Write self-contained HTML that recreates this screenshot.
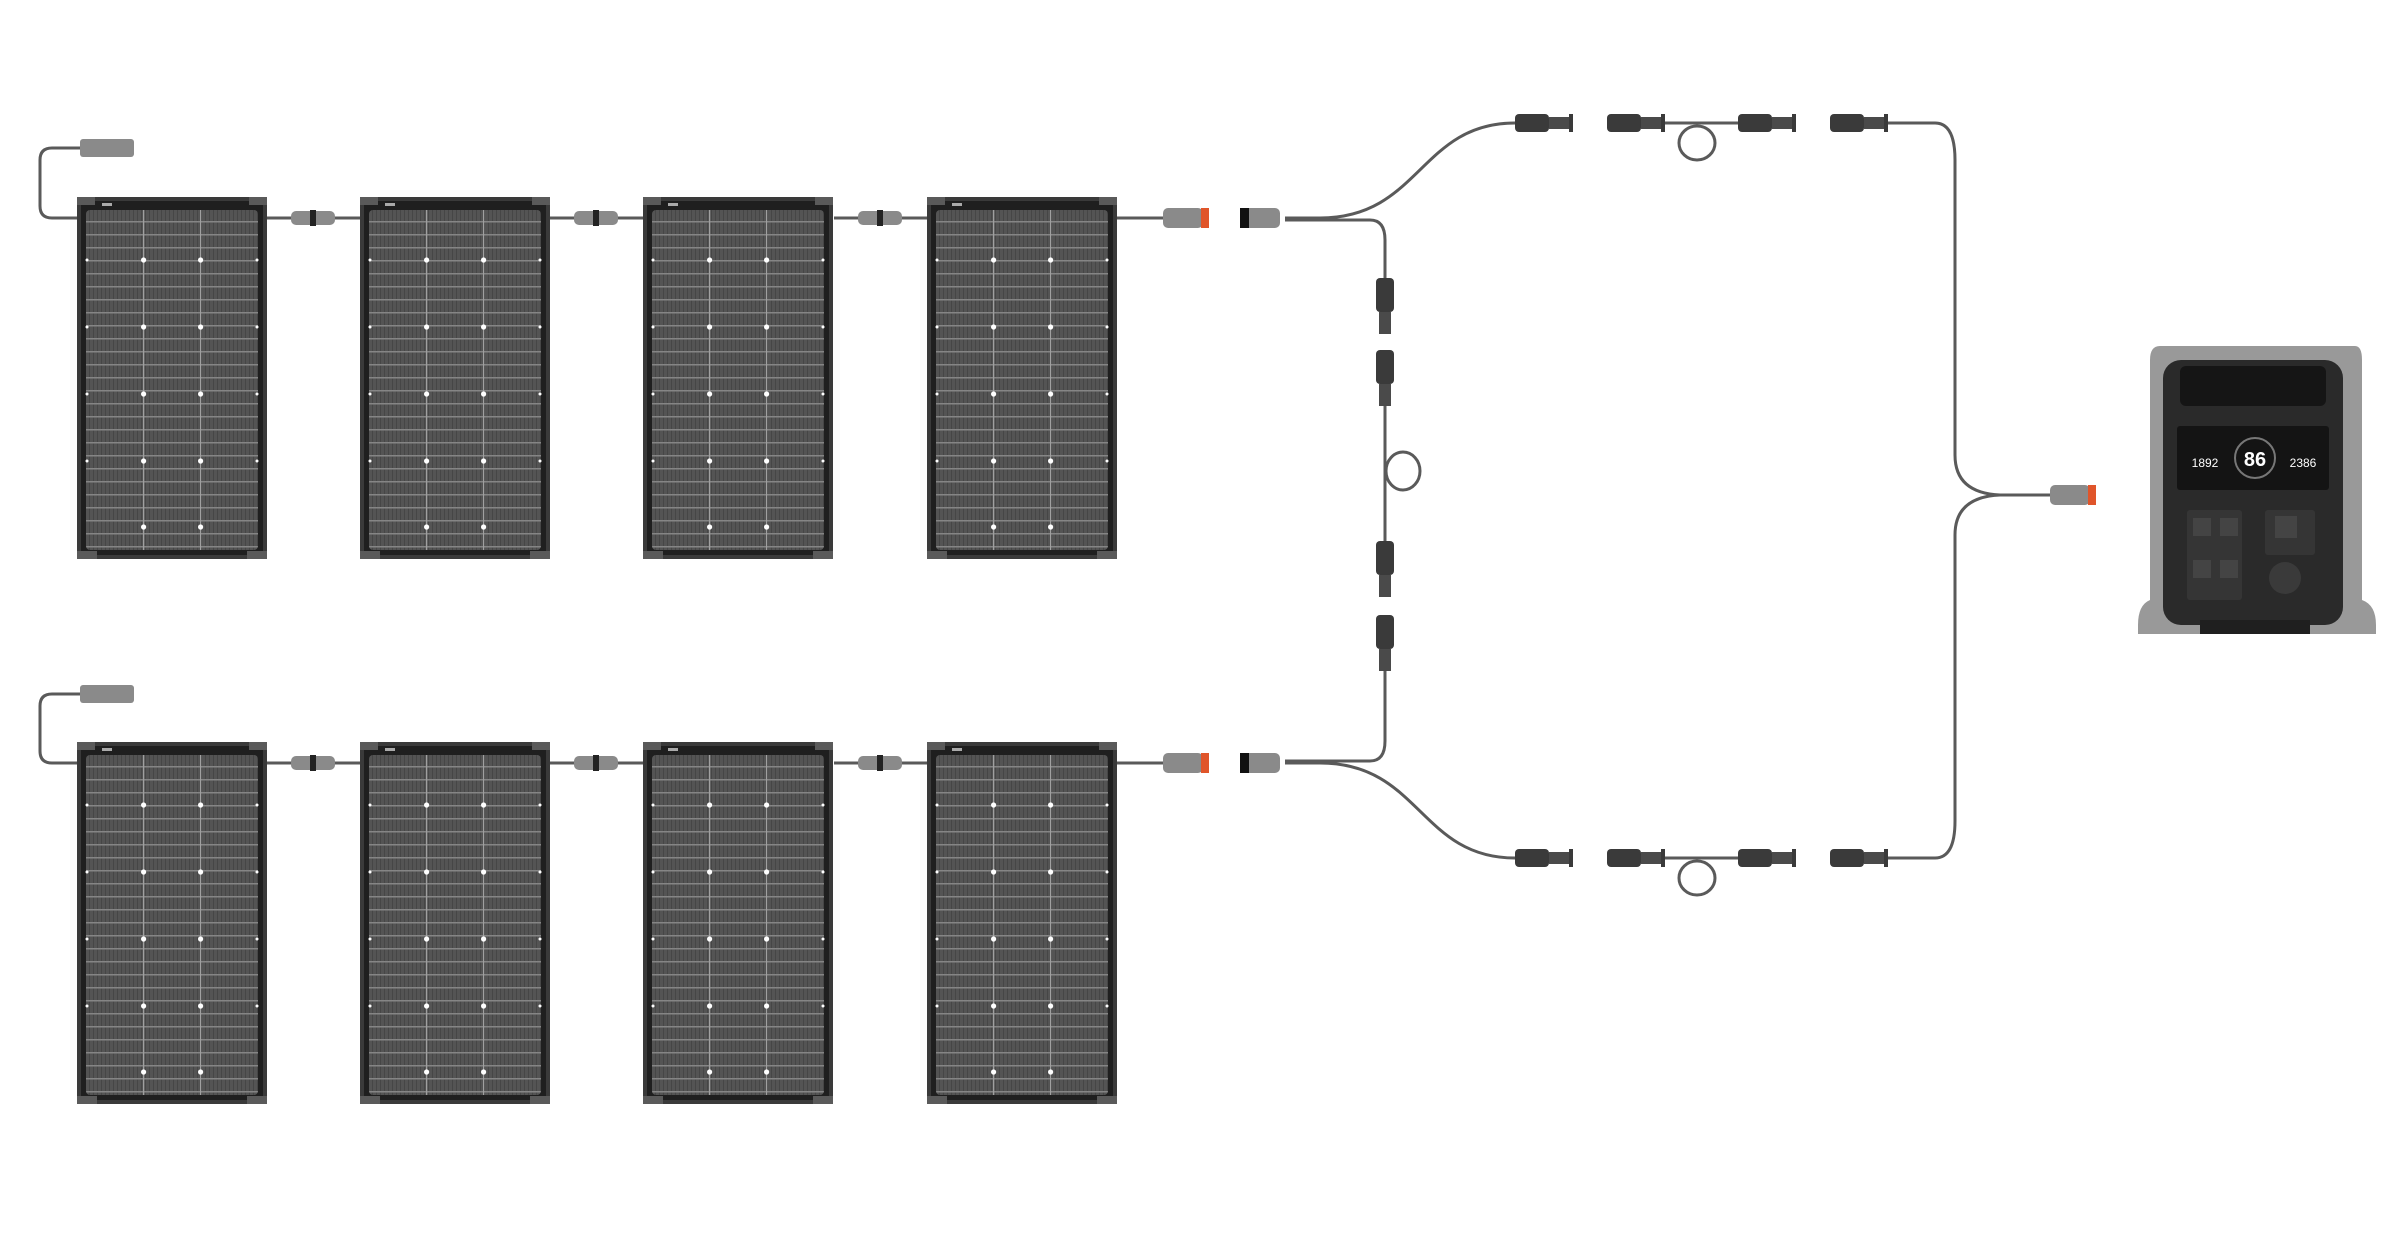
<!DOCTYPE html>
<html><head><meta charset="utf-8"><style>html,body{margin:0;padding:0;background:#fff}svg{display:block}</style></head>
<body>
<svg width="2400" height="1233" viewBox="0 0 2400 1233" xmlns="http://www.w3.org/2000/svg">
<defs>
<pattern id="vl" width="4" height="13" patternUnits="userSpaceOnUse">
<rect width="4" height="13" fill="#545454"/><rect width="1" height="13" fill="#464646"/><rect y="11" width="4" height="1.5" fill="#858585"/>
</pattern>
<g id="panel">
<rect x="0" y="0" width="190" height="362" rx="3" fill="#3a3a3a"/>
<rect x="4" y="4" width="182" height="354" fill="#1f1f1f"/>
<rect x="0" y="0" width="18" height="8" fill="#5a5a5a"/><rect x="172" y="0" width="18" height="8" fill="#5a5a5a"/>
<rect x="0" y="354" width="20" height="8" fill="#5a5a5a"/><rect x="170" y="354" width="20" height="8" fill="#5a5a5a"/>
<rect x="25" y="6" width="10" height="3" fill="#aaa"/>
<rect x="9" y="13" width="172" height="340" rx="4" fill="url(#vl)"/>
<rect x="66" y="13" width="1.2" height="340" fill="#a0a0a0"/><rect x="123" y="13" width="1.2" height="340" fill="#a0a0a0"/>
<g fill="#fff">
<circle cx="66.6" cy="63" r="2.6"/><circle cx="123.6" cy="63" r="2.6"/><circle cx="10" cy="63" r="1.5"/><circle cx="180" cy="63" r="1.5"/>
<circle cx="66.6" cy="130" r="2.6"/><circle cx="123.6" cy="130" r="2.6"/><circle cx="10" cy="130" r="1.5"/><circle cx="180" cy="130" r="1.5"/>
<circle cx="66.6" cy="197" r="2.6"/><circle cx="123.6" cy="197" r="2.6"/><circle cx="10" cy="197" r="1.5"/><circle cx="180" cy="197" r="1.5"/>
<circle cx="66.6" cy="264" r="2.6"/><circle cx="123.6" cy="264" r="2.6"/><circle cx="10" cy="264" r="1.5"/><circle cx="180" cy="264" r="1.5"/>
<circle cx="66.6" cy="330" r="2.6"/><circle cx="123.6" cy="330" r="2.6"/>
</g>
</g>
<g id="gconn">
<rect x="-22" y="-7" width="44" height="14" rx="5" fill="#8a8a8a"/>
<rect x="-3" y="-8" width="6" height="16" fill="#222"/>
</g>
<g id="mc4">
<rect x="0" y="-9" width="34" height="18" rx="4" fill="#3a3a3a"/>
<rect x="34" y="-6" width="22" height="12" fill="#4a4a4a"/>
<rect x="54" y="-9" width="4" height="18" fill="#3a3a3a"/>
</g>
<g id="mc4v">
<rect x="-9" y="0" width="18" height="34" rx="4" fill="#3a3a3a"/>
<rect x="-6" y="34" width="12" height="22" fill="#4a4a4a"/>
</g>
</defs>

<g fill="none" stroke="#5a5a5a" stroke-width="3">
<path d="M77 218 H52 Q40 218 40 206 V160 Q40 148 52 148 H80"/>
<path d="M77 763 H52 Q40 763 40 751 V706 Q40 694 52 694 H80"/>
<path d="M266 218 H360 M549 218 H643 M834 218 H927 M1117 218 H1170"/>
<path d="M266 763 H360 M549 763 H643 M834 763 H927 M1117 763 H1170"/>
<path d="M1285 218 H1320 C1420 218 1420 123 1515 123"/>
<path d="M1285 220 H1370 Q1385 220 1385 240 V280"/>
<path d="M1385 403 V541"/>
<ellipse cx="1403" cy="471" rx="17" ry="19"/>
<path d="M1285 761 H1370 Q1385 761 1385 741 V665"/>
<path d="M1285 763 H1320 C1420 763 1420 858 1515 858"/>
<path d="M1640 123 H1745"/>
<ellipse cx="1697" cy="143" rx="18" ry="17"/>
<path d="M1640 858 H1745"/>
<ellipse cx="1697" cy="878" rx="18" ry="17"/>
<path d="M1880 123 H1935 Q1955 123 1955 160 V455 Q1955 493 2000 495 H2050"/>
<path d="M1880 858 H1935 Q1955 858 1955 821 V535 Q1955 497 2000 495"/>
</g>

<use href="#panel" x="77" y="197"/><use href="#panel" x="360" y="197"/><use href="#panel" x="643" y="197"/><use href="#panel" x="927" y="197"/>
<use href="#panel" x="77" y="742"/><use href="#panel" x="360" y="742"/><use href="#panel" x="643" y="742"/><use href="#panel" x="927" y="742"/>

<use href="#gconn" x="313" y="218"/><use href="#gconn" x="596" y="218"/><use href="#gconn" x="880" y="218"/>
<use href="#gconn" x="313" y="763"/><use href="#gconn" x="596" y="763"/><use href="#gconn" x="880" y="763"/>
<g fill="#8a8a8a"><rect x="80" y="139" width="54" height="18" rx="3"/><rect x="80" y="685" width="54" height="18" rx="3"/></g>
<g>
<rect x="1163" y="208" width="40" height="20" rx="5" fill="#8a8a8a"/><rect x="1201" y="208" width="8" height="20" fill="#e0552a"/>
<rect x="1240" y="208" width="40" height="20" rx="5" fill="#8a8a8a"/><rect x="1240" y="208" width="9" height="20" fill="#111"/>
<rect x="1163" y="753" width="40" height="20" rx="5" fill="#8a8a8a"/><rect x="1201" y="753" width="8" height="20" fill="#e0552a"/>
<rect x="1240" y="753" width="40" height="20" rx="5" fill="#8a8a8a"/><rect x="1240" y="753" width="9" height="20" fill="#111"/>
<rect x="2050" y="485" width="40" height="20" rx="5" fill="#8a8a8a"/><rect x="2088" y="485" width="8" height="20" fill="#e0552a"/>
</g>
<use href="#mc4" x="1515" y="123"/><use href="#mc4" x="1607" y="123"/><use href="#mc4" x="1738" y="123"/><use href="#mc4" x="1830" y="123"/>
<use href="#mc4" x="1515" y="858"/><use href="#mc4" x="1607" y="858"/><use href="#mc4" x="1738" y="858"/><use href="#mc4" x="1830" y="858"/>
<use href="#mc4v" x="1385" y="278"/><use href="#mc4v" x="1385" y="350"/><use href="#mc4v" x="1385" y="541"/><use href="#mc4v" x="1385" y="615"/>

<g>
<path d="M2160 346 H2355 Q2362 346 2362 360 V600 Q2376 605 2376 625 V634 H2138 V625 Q2138 605 2150 600 V360 Q2150 346 2160 346Z" fill="#999"/>
<rect x="2163" y="360" width="180" height="265" rx="18" fill="#2a2a2a"/>
<rect x="2180" y="366" width="146" height="40" rx="6" fill="#151515"/>
<rect x="2177" y="426" width="152" height="64" rx="3" fill="#141414"/>
<circle cx="2255" cy="458" r="20" fill="none" stroke="#777" stroke-width="2"/>
<text x="2255" y="466" font-family="Liberation Sans,sans-serif" font-size="20" font-weight="bold" fill="#fff" text-anchor="middle">86</text>
<text x="2205" y="467" font-family="Liberation Sans,sans-serif" font-size="12" fill="#fff" text-anchor="middle">1892</text>
<text x="2303" y="467" font-family="Liberation Sans,sans-serif" font-size="12" fill="#fff" text-anchor="middle">2386</text>
<rect x="2187" y="510" width="55" height="90" rx="3" fill="#353535"/>
<rect x="2265" y="510" width="50" height="45" rx="3" fill="#353535"/>
<g fill="#444"><rect x="2193" y="518" width="18" height="18"/><rect x="2220" y="518" width="18" height="18"/><rect x="2193" y="560" width="18" height="18"/><rect x="2220" y="560" width="18" height="18"/><rect x="2275" y="516" width="22" height="22"/></g>
<circle cx="2285" cy="578" r="16" fill="#3a3a3a"/>
<rect x="2200" y="620" width="110" height="14" fill="#1f1f1f"/>
</g>
</svg>
</body></html>
